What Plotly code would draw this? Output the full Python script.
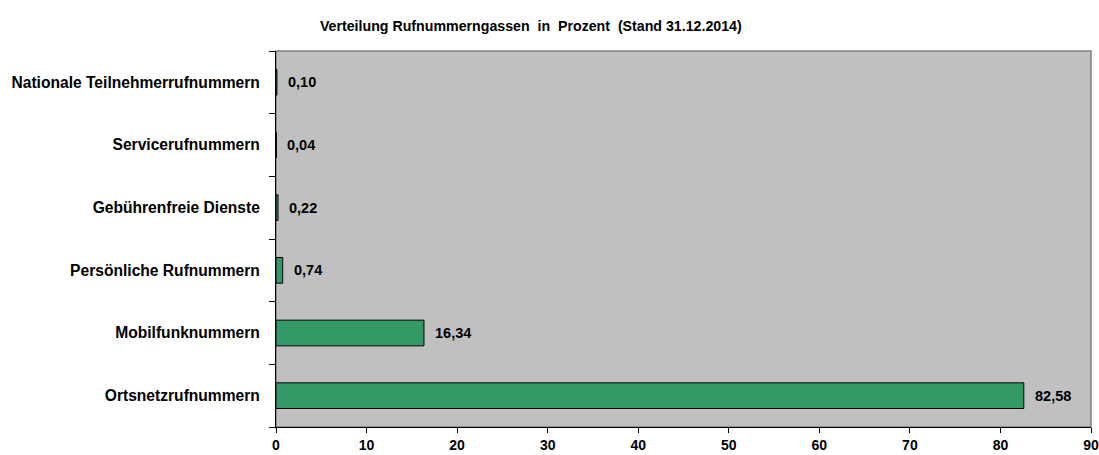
import plotly.graph_objects as go

categories = ["Ortsnetzrufnummern", "Mobilfunknummern", "Persönliche Rufnummern",
              "Gebührenfreie Dienste", "Servicerufnummern", "Nationale Teilnehmerrufnummern"]
values = [82.58, 16.34, 0.74, 0.22, 0.04, 0.10]
x_ticks = [0, 10, 20, 30, 40, 50, 60, 70, 80, 90]
title = "Verteilung Rufnummerngassen  in  Prozent  (Stand 31.12.2014)"

FONT = "Liberation Sans, Arial, sans-serif"

fig = go.Figure()
fig.add_trace(go.Bar(
    x=values, y=categories, orientation="h",
    marker=dict(color="#339966", line=dict(color="#000000", width=1)),
    width=0.41, hoverinfo="x+y",
))

for c, v in zip(categories, values):
    fig.add_annotation(x=v, y=c, xref="x", yref="y",
                       text="<b>" + f"{v:.2f}".replace(".", ",") + "</b>",
                       showarrow=False, xanchor="left", xshift=9,
                       font=dict(family=FONT, size=14.5, color="#000000"))

fig.add_shape(type="rect", xref="paper", yref="paper", x0=0, x1=1, y0=0, y1=1,
              line=dict(color="#808080", width=1.5), layer="below")

fig.update_layout(
    width=1099, height=455,
    margin=dict(l=276, r=8, t=51, b=28),
    paper_bgcolor="#ffffff", plot_bgcolor="#C0C0C0",
    separators=",.",
    showlegend=False,
    font=dict(family=FONT, size=14, color="#000000"),
    title=dict(text="<b>" + title + "</b>", x=0.483, xanchor="center", xref="container",
               y=0.943, yanchor="middle", yref="container",
               font=dict(family=FONT, size=14.2, color="#000000")),
)
fig.update_xaxes(range=[0, 90], tickvals=x_ticks,
                 ticktext=[f"<b>{t}</b>" for t in x_ticks],
                 showgrid=False, zeroline=False, automargin=False,
                 showline=True, linecolor="#000000", linewidth=1,
                 ticks="outside", ticklen=5, tickcolor="#000000",
                 tickfont=dict(family=FONT, size=14))
fig.update_yaxes(type="category", categoryorder="array", categoryarray=categories,
                 tickvals=categories, ticktext=[f"<b>{c}</b>" for c in categories],
                 showgrid=False, zeroline=False, automargin=False,
                 showline=True, linecolor="#000000", linewidth=1,
                 ticks="outside", ticklen=6, tickcolor="#000000", tickson="boundaries",
                 ticklabelstandoff=12,
                 tickfont=dict(family=FONT, size=15.6))

fig.write_html("out.html", config={"displayModeBar": False},
               post_script="document.body.style.margin='0';document.body.style.overflow='hidden';")
